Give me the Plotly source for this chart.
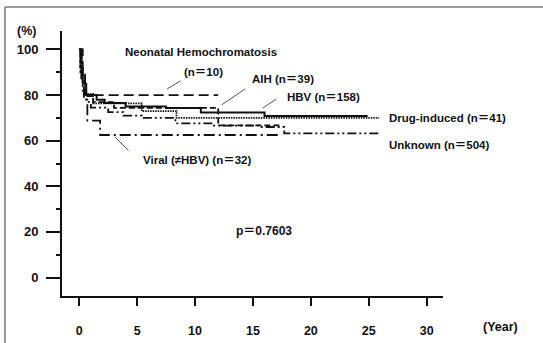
import plotly.graph_objects as go

# ---- data (years, survival %) ----
neo_t = [0, 0.3, 0.5, 12.0]
neo_s = [100, 90, 80, 80]

aih_t = [0, 0.2, 0.5, 1.2, 3.0, 12.0, 17.3]
aih_s = [100, 87.2, 79.5, 76.9, 74.4, 66.7, 66.7]

hbv_t = [0, 0.1, 0.3, 0.6, 1.5, 2.2, 4.0, 7.5, 10.5, 16.0, 24.9]
hbv_s = [100, 92, 85, 80, 78, 76.5, 75, 74.3, 72.4, 70.8, 70.8]

drug_t = [0, 0.2, 0.5, 1.2, 5.4, 8.4, 25.9]
drug_s = [100, 87.8, 80.5, 76.4, 73.0, 70.0, 70.0]

unk_t = [0, 0.1, 0.3, 0.6, 1.0, 2.5, 3.8, 5.4, 8.3, 11.5, 15.5, 17.7, 25.9]
unk_s = [100, 90, 82, 77, 74.5, 72.5, 71, 70, 67.6, 66.6, 66, 63.2, 63.2]

vir_t = [0, 0.2, 0.4, 0.7, 1.8, 17.5]
vir_s = [100, 87.5, 78, 68.8, 62.5, 62.5]

x_ticks = [0, 5, 10, 15, 20, 25, 30]
y_ticks = [0, 20, 40, 60, 80, 100]

LC = "#111111"
FONT = "Liberation Sans, Arial, Noto Sans CJK JP, sans-serif"

series = [
    (neo_t, neo_s, "10px,5px", 1.8),
    (aih_t, aih_s, "6px,3px", 1.8),
    (hbv_t, hbv_s, "solid", 2.0),
    (drug_t, drug_s, "1.5px,1px", 1.8),
    (unk_t, unk_s, "9px,3px,2px,3px,2px,3px", 1.8),
    (vir_t, vir_s, "11px,4px,2px,4px", 1.8),
]

fig = go.Figure()
for t, s, dash, w in series:
    fig.add_trace(go.Scatter(x=t, y=s, mode="lines", line_shape="hv",
                             line=dict(color=LC, width=w, dash=dash),
                             showlegend=False, hoverinfo="skip"))

TF = dict(size=11.5, color="#111", family=FONT, weight="bold")

def label(x, y, text, xanchor="center", xref="x", yref="y", size=11.5):
    fig.add_annotation(x=x, y=y, xref=xref, yref=yref, text=text, showarrow=False, xanchor=xanchor,
                       yanchor="middle", font=dict(TF, size=size))

def leader(x, y, ax, ay):
    fig.add_annotation(x=x, y=y, text="", showarrow=True, arrowhead=0,
                       arrowwidth=0.8, arrowcolor="#222", ax=ax, ay=ay, standoff=0)

label(10.5, 98.9, "Neonatal Hemochromatosis")
label(10.76, 90.1, "(n＝10)")
leader(7.59, 82.7, 15, -9)
label(17.6, 87.1, "AIH (n＝39)")
leader(12.3, 75.7, 25, -17)
label(21.05, 79.2, "HBV (n＝158)")
leader(15.85, 74.3, 15, -10)
label(26.55, 70.0, "Drug‐induced (n＝41)", xanchor="left")
label(26.55, 58.1, "Unknown (n＝504)", xanchor="left")
label(10.17, 51.5, "Viral (≠HBV) (n＝32)")
leader(3.09, 61.6, 15, 15)
label(15.95, 20.4, "p＝0.7603", size=12)
# outside plot area -> paper coordinates (plot area: x 62..443 px, y 31..296 px)
label((26 - 62) / 381, (296 - 31) / 265, "(%)", xref="paper", yref="paper", size=12.5)
label((500 - 62) / 381, (296 - 327) / 265, "(Year)", xref="paper", yref="paper", size=12.5)

# figure frame (top and left edges)
fig.add_shape(type="line", xref="paper", yref="paper", x0=(5 - 62) / 381, x1=(545 - 62) / 381,
              y0=(296 - 7) / 265, y1=(296 - 7) / 265, line=dict(color="#777", width=1.5))
fig.add_shape(type="line", xref="paper", yref="paper", x0=(5 - 62) / 381, x1=(5 - 62) / 381,
              y0=(296 - 7) / 265, y1=(296 - 345) / 265, line=dict(color="#777", width=1.5))

fig.update_layout(
    width=543, height=343,
    margin=dict(l=62, r=100, t=31, b=47, autoexpand=False),
    paper_bgcolor="white", plot_bgcolor="white",
    font=dict(family=FONT, size=12, color="#111"),
)
fig.update_xaxes(range=[-1.49, 31.41], tickvals=x_ticks, showline=True, linecolor="#111", linewidth=2,
                 ticks="outside", ticklen=8, tickwidth=1.5, tickcolor="#111", showgrid=False, zeroline=False,
                 ticklabelstandoff=14, tickfont=dict(size=12.5, weight="bold"), automargin=False)
fig.update_yaxes(range=[-8.1, 108.1], tickvals=y_ticks, showline=True, linecolor="#111", linewidth=2,
                 ticks="outside", ticklen=14, tickwidth=1.5, tickcolor="#111", showgrid=False, zeroline=False,
                 ticklabelstandoff=5, tickfont=dict(size=13, weight="bold"), automargin=False,
                 minor=dict(tickvals=[10, 30, 50, 70, 90], ticks="outside", ticklen=4, tickwidth=1.5, tickcolor="#111"))

fig.write_html("out.html", config={"displayModeBar": False},
               post_script="document.body.style.margin='0';document.body.style.overflow='hidden';")
